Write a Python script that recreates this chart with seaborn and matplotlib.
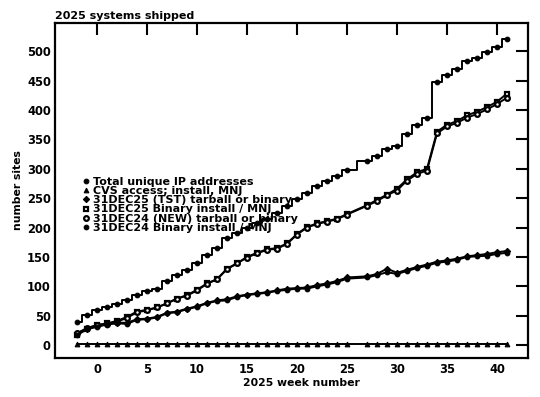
import matplotlib
matplotlib.use("Agg")
import matplotlib.pyplot as plt
import seaborn as sns
import pandas as pd

weeks = [-2, -1, 0, 1, 2, 3, 4, 5, 6, 7, 8, 9, 10, 11, 12, 13, 14, 15, 16, 17, 18, 19,
         20, 21, 22, 23, 24, 25, 27, 28, 29, 30, 31, 32, 33, 34, 35, 36, 37, 38, 39, 40, 41]

total_ip = [40, 51, 59, 65, 70, 76, 86, 92, 96, 109, 119, 127, 140, 154, 165, 182, 191, 199,
            207, 215, 225, 237, 248, 258, 271, 279, 288, 298, 313, 321, 334, 339, 359, 374,
            387, 447, 460, 469, 483, 489, 498, 508, 520]

cvs_access = [2, 2, 2, 2, 2, 2, 2, 2, 2, 2, 2, 2, 2, 2, 2, 2, 2, 2, 2, 2, 2, 2,
              2, 2, 2, 2, 2, 2, 2, 2, 2, 2, 2, 2, 2, 2, 2, 2, 2, 2, 2, 2, 2]

dec25_tst = [20, 28, 32, 36, 38, 38, 44, 45, 48, 55, 57, 62, 66, 72, 76, 78, 83, 86, 88, 90,
             93, 96, 97, 98, 102, 105, 109, 115, 117, 121, 130, 123, 128, 133, 137, 142, 144,
             147, 151, 153, 155, 158, 160]

dec25_binary = [17, 28, 34, 37, 41, 48, 57, 60, 64, 71, 79, 85, 94, 105, 112, 130, 139, 150,
                157, 163, 165, 173, 189, 201, 207, 211, 215, 223, 238, 247, 256, 266, 282, 294,
                300, 363, 375, 381, 391, 397, 405, 414, 428]

dec24_new = [20, 29, 34, 36, 40, 46, 56, 59, 64, 71, 79, 84, 93, 104, 112, 129, 139, 149, 156,
             162, 164, 172, 188, 200, 206, 210, 214, 222, 237, 245, 255, 263, 280, 291, 297,
             360, 372, 378, 387, 393, 401, 410, 421]

dec24_binary = [17, 27, 31, 35, 37, 36, 43, 44, 47, 54, 56, 61, 65, 71, 75, 76, 82, 85, 87,
                89, 92, 94, 96, 96, 100, 103, 107, 113, 115, 119, 124, 121, 126, 131, 135, 140,
                142, 145, 150, 151, 152, 155, 157]

labels = ["Total unique IP addresses", "CVS access; install, MNJ",
          "31DEC25 (TST) tarball or binary", "31DEC25 Binary install / MNJ",
          "31DEC24 (NEW) tarball or binary", "31DEC24 Binary install / MNJ"]

x_ticks = [0, 5, 10, 15, 20, 25, 30, 35, 40]
y_ticks = [0, 50, 100, 150, 200, 250, 300, 350, 400, 450, 500]

sns.set_style("white")
plt.rcParams["font.family"] = ["DejaVu Sans"]
plt.rcParams["font.weight"] = "bold"
plt.rcParams["text.color"] = "black"
plt.rcParams["axes.labelcolor"] = "black"
plt.rcParams["xtick.color"] = "black"
plt.rcParams["ytick.color"] = "black"

fig = plt.figure(figsize=(5.4, 3.97), dpi=100)
ax = fig.add_axes([55 / 540, 1 - 358 / 397, 473 / 540, 335 / 397])

series = [total_ip, cvs_access, dec25_tst, dec25_binary, dec24_new, dec24_binary]
styles = [
    dict(marker="o", ms=3.4, mfc="black", drawstyle="steps-mid"),
    dict(marker="^", ms=3.4, mfc="black"),
    dict(marker="D", ms=3.2, mfc="black"),
    dict(marker="s", ms=3.4, mfc="white", mew=1.6),
    dict(marker="o", ms=3.4, mfc="white", mew=1.6),
    dict(marker="o", ms=3.4, mfc="black"),
]
for vals, lab, st in zip(series, labels, styles):
    df = pd.DataFrame({"week": weeks, "sites": vals})
    sns.lineplot(data=df, x="week", y="sites", ax=ax, color="black", lw=1.4,
                 mec="black", label=lab, sort=False, estimator=None, **st)

ax.set_xlim(-4.2, 43.1)
ax.set_ylim(-22, 548)
ax.set_xticks(x_ticks)
ax.set_yticks(y_ticks)
ax.tick_params(direction="in", length=8.5, width=1.5, top=True, right=True,
               labelsize=8.3, pad=3, colors="black")
ax.tick_params(axis="x", pad=3.5)
for lab in ax.get_xticklabels() + ax.get_yticklabels():
    lab.set_fontweight("bold")
for sp in ax.spines.values():
    sp.set_linewidth(1.6)
    sp.set_color("black")

ax.set_xlabel("2025 week number", fontsize=7.8, fontweight="bold", color="black")
ax.set_ylabel("number sites", fontsize=7.8, fontweight="bold", color="black")
ax.xaxis.set_label_coords(0.521, -0.06)
ax.yaxis.set_label_coords(-0.068, 0.5)
ax.set_title("2025 systems shipped", loc="left", fontsize=8, fontweight="bold", pad=3,
             color="black")

leg = ax.legend(loc="upper left", bbox_to_anchor=(0.0655, 0.54), frameon=False,
                handlelength=0, handletextpad=0.6, labelspacing=-0.08,
                borderpad=0, borderaxespad=0, prop=dict(size=8, weight="bold"),
                labelcolor="black")

fig.savefig("out.png", dpi=100)
